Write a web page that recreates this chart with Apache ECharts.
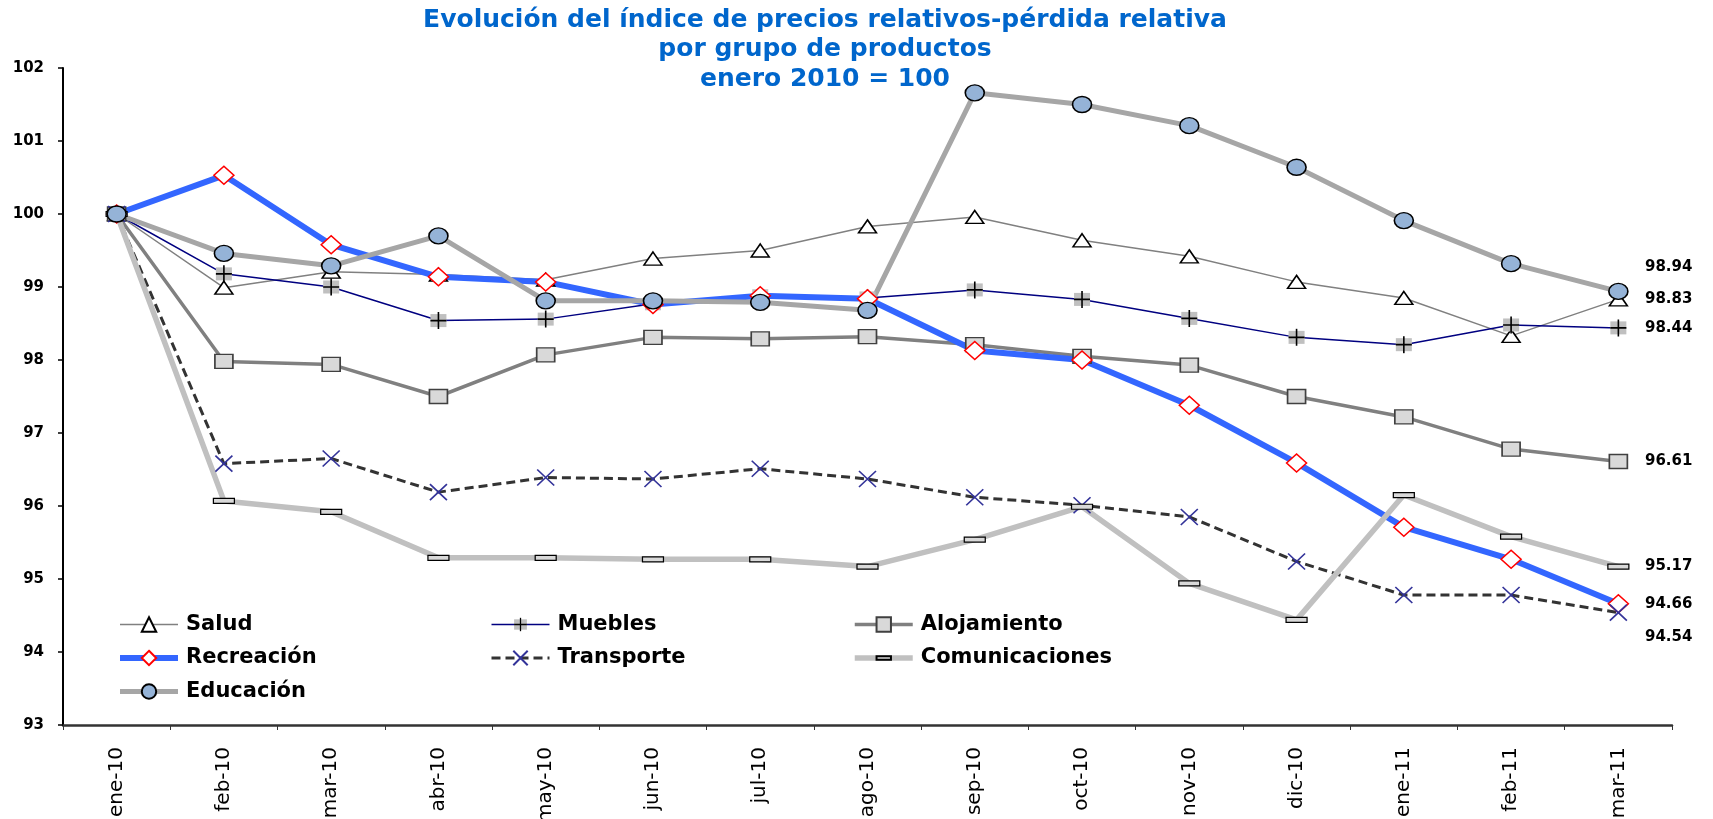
<!DOCTYPE html>
<html>
<head>
<meta charset="utf-8">
<script src="https://cdn.jsdelivr.net/npm/echarts@6/dist/echarts.min.js"></script>
<style>
html,body{margin:0;padding:0;background:#fff;overflow:hidden;}
#c{width:1713px;height:819px;}
</style>
</head>
<body>
<div id="c"></div>
<script>
const categories = ['ene-10','feb-10','mar-10','abr-10','may-10','jun-10','jul-10','ago-10','sep-10','oct-10','nov-10','dic-10','ene-11','feb-11','mar-11'];
const yTicks = [93, 94, 95, 96, 97, 98, 99, 100, 101, 102];
const salud          = [100, 98.99, 99.21, 99.17, 99.10, 99.39, 99.50, 99.83, 99.96, 99.64, 99.42, 99.07, 98.85, 98.33, 98.83];
const muebles        = [100, 99.18, 99.00, 98.54, 98.56, 98.77, 98.88, 98.85, 98.96, 98.83, 98.57, 98.31, 98.21, 98.48, 98.44];
const alojamiento    = [100, 97.98, 97.94, 97.50, 98.07, 98.31, 98.29, 98.32, 98.21, 98.05, 97.93, 97.50, 97.22, 96.78, 96.61];
const recreacion     = [100, 100.53, 99.58, 99.14, 99.07, 98.76, 98.88, 98.84, 98.13, 98.00, 97.38, 96.59, 95.71, 95.27, 94.66];
const transporte     = [100, 96.58, 96.65, 96.19, 96.39, 96.37, 96.51, 96.37, 96.12, 96.01, 95.85, 95.24, 94.78, 94.78, 94.54];
const comunicaciones = [100, 96.07, 95.92, 95.29, 95.29, 95.27, 95.27, 95.17, 95.54, 95.99, 94.94, 94.44, 96.15, 95.58, 95.17];
const educacion      = [100, 99.46, 99.29, 99.70, 98.81, 98.81, 98.79, 98.68, 101.66, 101.50, 101.21, 100.64, 99.91, 99.32, 98.94];

const seriesNames = ['Salud','Muebles','Alojamiento','Recreación','Transporte','Comunicaciones','Educación'];

function svgUri(svg){ return 'image://data:image/svg+xml;charset=utf-8,' + encodeURIComponent(svg); }
const mueblesSym = svgUri("<svg xmlns='http://www.w3.org/2000/svg' width='18' height='18' viewBox='0 0 18 18'><rect x='1' y='2.5' width='16' height='13' fill='#c0c0c0'/><path d='M9 0.5 V17.5 M1 9 H17' stroke='#000' stroke-width='1.6' fill='none'/></svg>");
const ellipsePath = 'path://M0,50 A50,50 0 1,1 100,50 A50,50 0 1,1 0,50 Z';
const xPath = 'path://M0,0 L100,100 M100,0 L0,100';
const barPath = 'path://M0,0 M0,37.5 L100,37.5 L100,62.5 L0,62.5 Z M100,100';

const FONT = 'DejaVu Sans';

function endLabel(dy){
  return {show:true, position:'inside', align:'left', verticalAlign:'middle', offset:[26.6, dy],
    color:'#000', fontFamily:FONT, fontWeight:'bold', fontSize:15, textBorderWidth:0,
    formatter: p => Number(p.value).toFixed(2)};
}
function withEnd(arr, dy){
  return arr.map((v,i) => i === arr.length-1 ? {value:v, label:endLabel(dy)} : v);
}
function legendCol(left, names){
  return {left:left, top:614, padding:0, orient:'vertical', itemWidth:58, itemHeight:18, itemGap:12.5,
    data:names, lineStyle:{width:'inherit'},
    textStyle:{fontFamily:FONT, fontWeight:'bold', fontSize:21, color:'#000', lineHeight:20, padding:[0,0,0,3]}};
}

const option = {
  animation:false,
  backgroundColor:'#fff',
  title:{
    text:'Evolución del índice de precios relativos-pérdida relativa\npor grupo de productos\nenero 2010 = 100',
    left:825, top:5.5, padding:0, textAlign:'center',
    textStyle:{fontFamily:FONT, fontWeight:'bold', fontSize:25, color:'#0066CC', lineHeight:29.5}
  },
  grid:{left:63, right:41, top:68, bottom:94, containLabel:false, outerBoundsMode:'none'},
  legend:[
    legendCol(117, ['Salud','Recreación','Educación']),
    legendCol(490, ['Muebles','Transporte']),
    legendCol(852, ['Alojamiento','Comunicaciones'])
  ],
  xAxis:{
    type:'category', data:categories, boundaryGap:true,
    axisLine:{lineStyle:{color:'#333', width:2.5}},
    axisTick:{show:true, length:5, lineStyle:{color:'#333', width:1}},
    axisLabel:{rotate:90, margin:22, fontFamily:FONT, fontSize:20, color:'#000', interval:0},
    splitLine:{show:false}
  },
  yAxis:{
    type:'value', min:yTicks[0], max:yTicks[yTicks.length-1], interval:1,
    axisLine:{show:true, lineStyle:{color:'#000', width:2}},
    axisTick:{show:true, length:5, lineStyle:{color:'#000', width:1.5}},
    axisLabel:{margin:19, fontFamily:FONT, fontWeight:'bold', fontSize:15, color:'#000'},
    splitLine:{show:false}
  },
  series:[
    {name:seriesNames[0], type:'line', data:withEnd(salud,0),
     symbol:'triangle', symbolSize:[18,13],
     lineStyle:{color:'#808080', width:1.5},
     itemStyle:{color:'#fff', borderColor:'#000', borderWidth:1.5}},
    {name:seriesNames[1], type:'line', data:withEnd(muebles,0),
     symbol:mueblesSym, symbolSize:[18,18],
     lineStyle:{color:'#000080', width:1.5},
     itemStyle:{color:'#000080'}},
    {name:seriesNames[2], type:'line', data:withEnd(alojamiento,0),
     symbol:'rect', symbolSize:[18,14],
     lineStyle:{color:'#808080', width:3.5},
     itemStyle:{color:'#d9d9d9', borderColor:'#404040', borderWidth:1.5}},
    {name:seriesNames[3], type:'line', data:withEnd(recreacion,0),
     symbol:'diamond', symbolSize:[20,18],
     lineStyle:{color:'#3366FF', width:6},
     itemStyle:{color:'#fff', borderColor:'#ff0000', borderWidth:1.5}},
    {name:seriesNames[4], type:'line', data:withEnd(transporte,25),
     symbol:xPath, symbolSize:[17,16],
     lineStyle:{color:'#333', width:3, type:[9,5]},
     itemStyle:{color:'none', borderColor:'#333399', borderWidth:1.6}},
    {name:seriesNames[5], type:'line', data:withEnd(comunicaciones,0),
     symbol:barPath, symbolSize:[21,20],
     lineStyle:{color:'#c0c0c0', width:5.5},
     itemStyle:{color:'#d9d9d9', borderColor:'#000', borderWidth:1.2}},
    {name:seriesNames[6], type:'line', data:withEnd(educacion,-24),
     symbol:ellipsePath, symbolSize:[19,16],
     lineStyle:{color:'#a6a6a6', width:5},
     itemStyle:{color:'#95b3d7', borderColor:'#000', borderWidth:1.5}}
  ]
};
const chart = echarts.init(document.getElementById('c'), null, {renderer:'canvas'});
chart.setOption(option);
</script>
</body>
</html>
